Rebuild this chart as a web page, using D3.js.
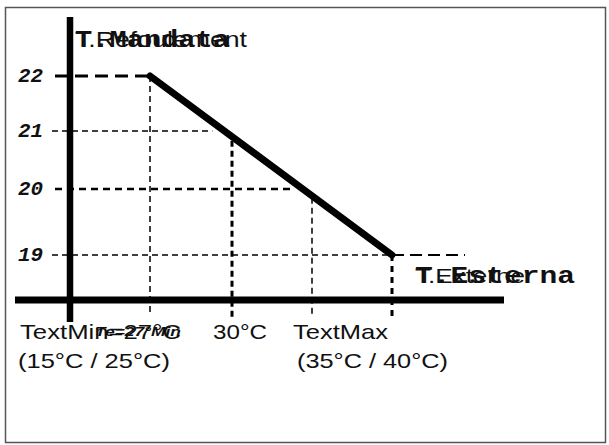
<!DOCTYPE html>
<html>
<head>
	<meta charset="utf-8">
	<script src="https://cdn.jsdelivr.net/npm/d3@7/dist/d3.min.js"></script>
	<style>
		body { margin: 0; background: #fff; }
		.sans { font-family: "Liberation Sans", Arial, sans-serif; fill: #111; }
		.mono { font-family: "Liberation Mono", "Courier New", monospace; font-weight: bold; fill: #111; }
	</style>
</head>
<body>
	<svg id="SVG" width="609" height="445"></svg>
	<script>
	// valori
	var yTicks = [19, 20, 21, 22];
	var xTicks = [27, 30, 35, 40];
	var curveText = [27, 40];
	var curveMandata = [22, 19];
	var xLabels = ["TextMin=27°C", "30°C", "TextMax"];
	var xSubLabels = ["(15°C / 25°C)", "", "(35°C / 40°C)"];
	var yTitles = ["T.Refoulement", "T.Mandata"];
	var xTitles = ["T.Externe", "T.Esterna"];
	var xNote = "Te=27°Min";

	function createSVG() {
		var svg = d3.select("#SVG");

		var x = d3.scaleLinear()
			.domain(xTicks)
			.range([150, 232, 312, 392]);

		var y = d3.scaleLinear()
			.domain(yTicks)
			.range([255, 189, 131, 76]);

		var axisX = 70, axisY = 300;

		// y on the curve for a pixel x
		var onCurve = d3.scaleLinear()
			.domain(curveText.map(x))
			.range(curveMandata.map(y));
		var curveAtY = onCurve.copy().domain(onCurve.range()).range(onCurve.domain());

		svg.append("rect")
			.attr("x", 5.5).attr("y", 7.5)
			.attr("width", 600).attr("height", 435)
			.attr("fill", "#fff")
			.attr("stroke", "#555")
			.attr("stroke-width", 1.5);

		// horizontal guides
		var hStyle = {
			22: { w: 3, dash: "13,7", x0: 55, end: function() { return x(27); } },
			21: { w: 1.5, dash: "6,4", x0: 52, end: function(d) { return curveAtY(y(d)) - 12; } },
			20: { w: 2.5, dash: "7,5", x0: 55, end: function(d) { return curveAtY(y(d)) - 8; } },
			19: { w: 1.5, dash: "6,4", x0: 52, end: function() { return x(40); } }
		};

		svg.append("g")
			.selectAll("line")
			.data(yTicks)
			.enter().append("line")
				.attr("x1", function(d) { return hStyle[d].x0; })
				.attr("x2", function(d) { return hStyle[d].end(d); })
				.attr("y1", y)
				.attr("y2", y)
				.attr("stroke", "#000")
				.attr("stroke-width", function(d) { return hStyle[d].w; })
				.attr("stroke-dasharray", function(d) { return hStyle[d].dash; });

		// prolungamento a 19
		svg.append("line")
			.attr("x1", x(40)).attr("x2", 465)
			.attr("y1", y(19)).attr("y2", y(19))
			.attr("stroke", "#000")
			.attr("stroke-width", 1.8)
			.attr("stroke-dasharray", "12,6");

		// vertical guides
		var vStyle = {
			27: { w: 1.5, dash: "6,4", y1: 316, top: function() { return y(22); } },
			30: { w: 3, dash: "6,4", y1: 318, top: function(d) { return onCurve(x(d)) + 4; } },
			35: { w: 1.5, dash: "6,4", y1: 316, top: function(d) { return onCurve(x(d)) + 2; } },
			40: { w: 3, dash: "6,5", y1: 317, top: function() { return y(19); } }
		};

		svg.append("g")
			.selectAll("line")
			.data(xTicks)
			.enter().append("line")
				.attr("x1", x)
				.attr("x2", x)
				.attr("y1", function(d) { return vStyle[d].top(d); })
				.attr("y2", function(d) { return vStyle[d].y1; })
				.attr("stroke", "#000")
				.attr("stroke-width", function(d) { return vStyle[d].w; })
				.attr("stroke-dasharray", function(d) { return vStyle[d].dash; });

		// assi
		svg.append("line")
			.attr("x1", axisX).attr("x2", axisX)
			.attr("y1", 17).attr("y2", 322)
			.attr("stroke", "#000")
			.attr("stroke-width", 6.5);

		svg.append("line")
			.attr("x1", 15).attr("x2", 504)
			.attr("y1", axisY).attr("y2", axisY)
			.attr("stroke", "#000")
			.attr("stroke-width", 7);

		// curva
		svg.append("path")
			.datum(d3.zip(curveText, curveMandata))
			.attr("d", d3.line()
				.x(function(d) { return x(d[0]); })
				.y(function(d) { return y(d[1]); }))
			.attr("fill", "none")
			.attr("stroke", "#000")
			.attr("stroke-width", 7)
			.attr("stroke-linecap", "round");

		// y tick labels
		svg.append("g")
			.selectAll("text")
			.data(yTicks)
			.enter().append("text")
				.attr("class", "mono")
				.attr("x", 18)
				.attr("y", function(d) { return y(d) + 6; })
				.attr("font-size", 21)
				.attr("font-style", "italic")
				.attr("textLength", 25)
				.attr("lengthAdjust", "spacingAndGlyphs")
				.text(function(d) { return d; });

		function label(txt, cls, px, py, size, len) {
			return svg.append("text")
				.attr("class", cls)
				.attr("x", px)
				.attr("y", py)
				.attr("font-size", size)
				.attr("textLength", len)
				.attr("lengthAdjust", "spacingAndGlyphs")
				.text(txt);
		}

		label(yTitles[0], "sans", 75, 47, 22, 172);
		label(yTitles[1], "mono", 75, 47, 23, 155);
		label(xTitles[0], "sans", 415, 283, 21, 110);
		label(xTitles[1], "mono", 415, 283, 23, 160);

		var labX = [20, 213, 293], labLen = [161, 54, 95];
		var subX = [18, null, 297], subLen = [152, 0, 151];
		xLabels.forEach(function(t, i) {
			label(t, "sans", labX[i], 339, 21, labLen[i]);
			if (xSubLabels[i]) label(xSubLabels[i], "sans", subX[i], 368, 21, subLen[i]);
		});

		label(xNote, "sans", 95, 336, 13, 86)
			.attr("font-style", "italic")
			.attr("font-weight", "bold");
	}

	createSVG();
	</script>
</body>
</html>
